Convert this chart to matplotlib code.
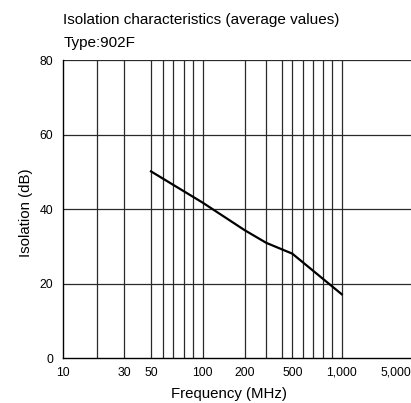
import numpy as np
import matplotlib
matplotlib.use("Agg")
import matplotlib.pyplot as plt

plt.rcParams['font.family'] = ['Liberation Sans', 'DejaVu Sans']

# isolation curve (average values)
freq_mhz = [50, 100, 200, 300, 500, 1000]
isolation_db = [50.2, 41.8, 34.4, 31.0, 28.1, 17.2]

x_ticks = [10, 30, 50, 100, 200, 500, 1000, 5000]
x_tick_labels = ['10', '30', '50', '100', '200', '500', '1,000', '5,000']
x_grid = [20, 30, 50, 60, 70, 80, 90, 100, 200, 300, 400, 500,
          600, 700, 800, 900, 1000]
y_ticks = [0, 20, 40, 60, 80]

# the printed frequency axis is not a true log scale, so map it piecewise
anchor_f = np.log10([10, 20, 30, 50, 60, 70, 80, 90, 100, 200, 300, 400,
                     500, 600, 700, 800, 900, 1000, 5000, 20000])
anchor_p = np.array([0, 33.4, 60.7, 87.7, 99.4, 110.0, 120.4, 130.0, 139.4,
                     181.4, 203.0, 218.4, 229.0, 240.0, 250.0, 260.0, 269.0,
                     278.4, 332.7, 400.0])


def fwd(f):
    return np.interp(np.log10(np.clip(f, 1e-3, None)), anchor_f, anchor_p)


def inv(p):
    return 10 ** np.interp(p, anchor_p, anchor_f)


fig = plt.figure(figsize=(4.11, 4.03), dpi=100)
ax = fig.add_axes([0.154, 0.111, 0.846, 0.739])
ax.set_xscale('function', functions=(fwd, inv))
ax.set_xlim(10, inv(347.7))
ax.set_ylim(0, 80)

for f in x_grid:
    ax.axvline(f, color='#2a2a2a', lw=0.9, zorder=1)
for v in y_ticks[1:]:
    ax.axhline(v, color='#2a2a2a', lw=0.9, zorder=1)

ax.plot(freq_mhz, isolation_db, color='black', lw=1.6, zorder=3)

ax.set_xticks(x_ticks)
ax.set_xticklabels(x_tick_labels)
ax.minorticks_off()
ax.set_yticks(y_ticks)
ax.tick_params(length=0, labelsize=8.8, pad=6)
ax.tick_params(axis='y', pad=7.5)

for s in ['top', 'right']:
    ax.spines[s].set_visible(False)
for s in ['left', 'bottom']:
    ax.spines[s].set_color('black')
    ax.spines[s].set_linewidth(1.0)

ax.set_xlabel('Frequency (MHz)', fontsize=10.8)
ax.xaxis.set_label_coords(0.477, -0.095)
ax.set_ylabel('Isolation (dB)', fontsize=10.8)
ax.yaxis.set_label_coords(-0.088, 0.49)

fig.text(0.154, 0.951, 'Isolation characteristics (average values)',
         fontsize=11, va='center', ha='left')
fig.text(0.154, 0.893, 'Type:902F', fontsize=11, va='center', ha='left')

fig.savefig('out.png', dpi=100)
